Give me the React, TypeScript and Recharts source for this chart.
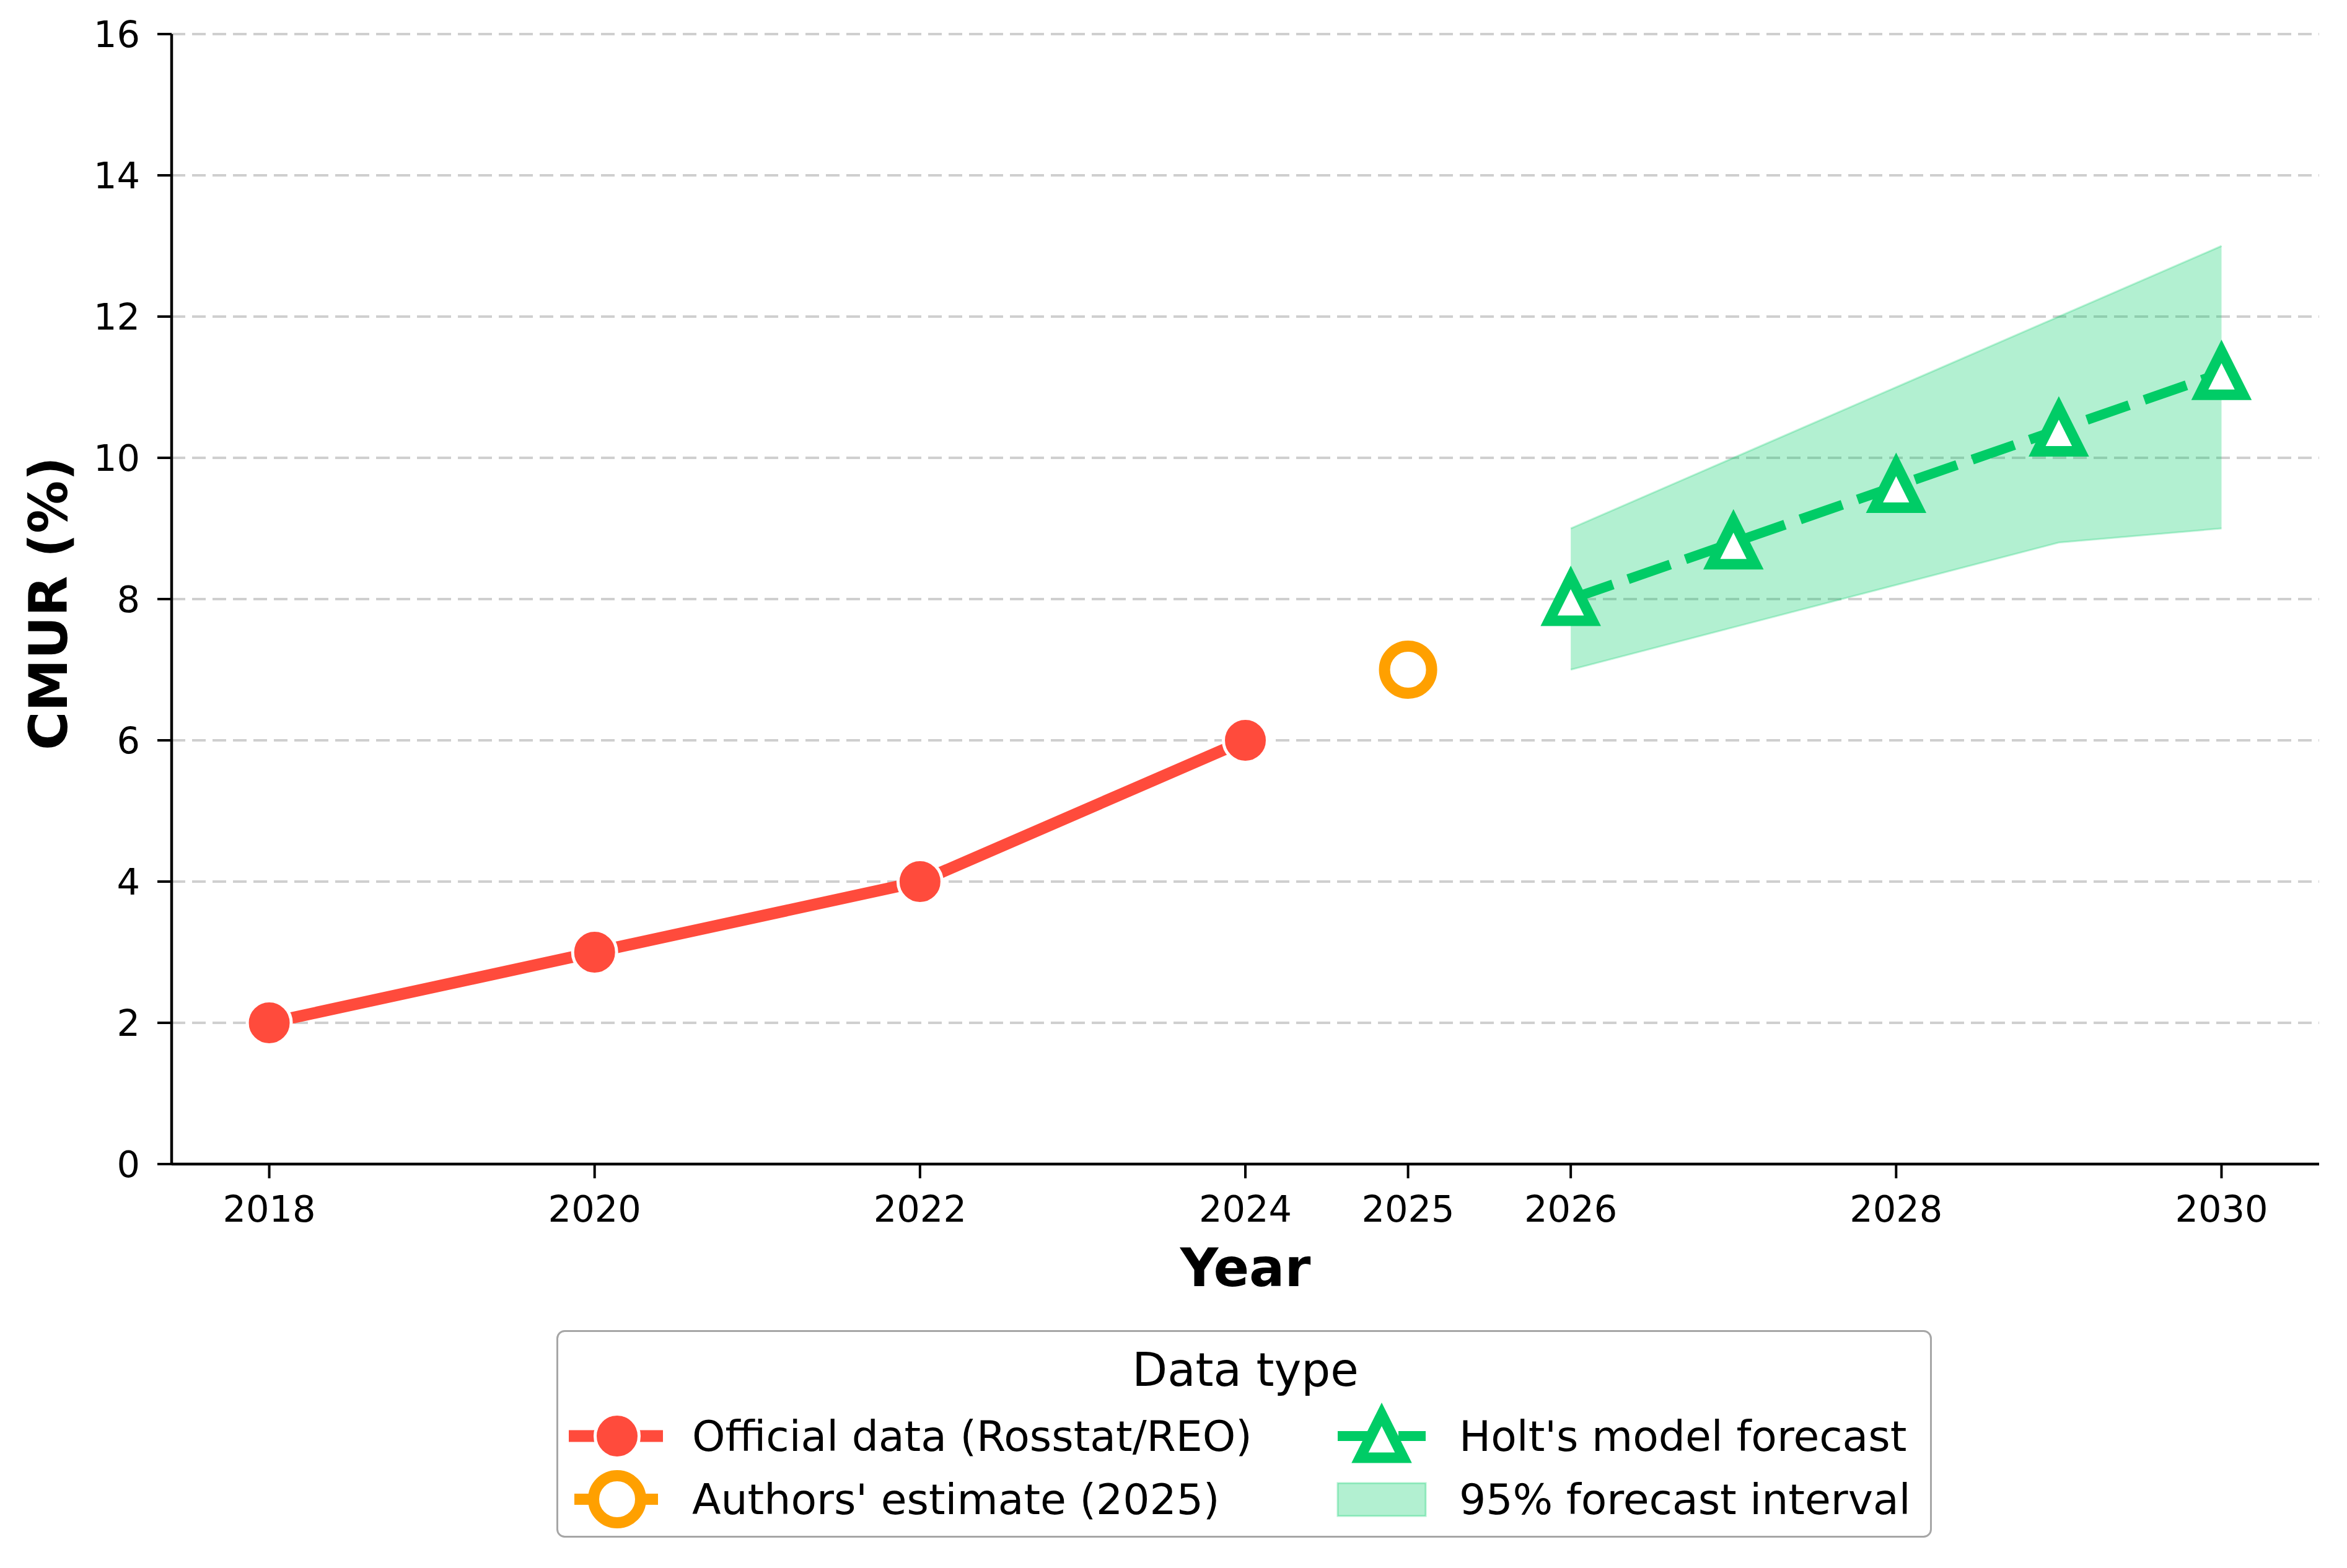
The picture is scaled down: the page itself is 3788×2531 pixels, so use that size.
import { ComposedChart, Line, Area, XAxis, YAxis, CartesianGrid, Legend, Label } from 'recharts';

const years = [2018, 2020, 2022, 2024, 2025, 2026, 2027, 2028, 2029, 2030];

const officialYears = [2018, 2020, 2022, 2024];
const officialValues = [2, 3, 4, 6];

const estimateYears = [2025];
const estimateValues = [7];

const forecastYears = [2026, 2027, 2028, 2029, 2030];
const forecastValues = [8.0, 8.8, 9.6, 10.4, 11.2];
const lowerBound = [7.0, 7.6, 8.2, 8.8, 9.0];
const upperBound = [9.0, 10.0, 11.0, 12.0, 13.0];

const xTicks = [2018, 2020, 2022, 2024, 2025, 2026, 2028, 2030];
const yTicks = [0, 2, 4, 6, 8, 10, 12, 14, 16];

const legendLabels = [
  'Official data (Rosstat/REO)',
  "Authors' estimate (2025)",
  "Holt's model forecast",
  '95% forecast interval',
];

const RED = '#FF4B3C';
const ORANGE = '#FFA000';
const GREEN = '#00CC66';
const FONT = '"DejaVu Sans", sans-serif';

const pick = (ys: number[], vs: number[], year: number) => {
  const i = ys.indexOf(year);
  return i >= 0 ? vs[i] : null;
};

const rows = years.map((year) => {
  const i = forecastYears.indexOf(year);
  return {
    year,
    official: pick(officialYears, officialValues, year),
    estimate: pick(estimateYears, estimateValues, year),
    forecast: pick(forecastYears, forecastValues, year),
    band: i >= 0 ? [lowerBound[i], upperBound[i]] : null,
  };
});

// matplotlib-style '^' marker, centred on the data point
const trianglePath = (cx: number, cy: number, h = 35) =>
  `M${cx},${cy - h}L${cx - h},${cy + h}L${cx + h},${cy + h}Z`;

const renderTriangle = (props: any) => {
  const { cx, cy, index } = props;
  if (cx == null || cy == null) return <g key={`tri-${index}`} />;
  return (
    <path
      key={`tri-${index}`}
      d={trianglePath(cx, cy)}
      fill="#fff"
      stroke={GREEN}
      strokeWidth={17}
      strokeLinejoin="miter"
      strokeDasharray="none"
    />
  );
};

function LegendBox() {
  const w = 2220;
  const h = 335;
  const row1 = 171;
  const row2 = 273;
  const textStyle = { fontFamily: FONT, fontSize: 68, fill: '#000' };
  return (
    <svg width={w} height={h} style={{ display: 'block' }}>
      <rect x={1.5} y={1.5} width={w - 3} height={h - 3} rx={12} fill="#fff" stroke="#a6a6a6" strokeWidth={3} />
      <text x={1112} y={64} textAnchor="middle" dominantBaseline="central" style={{ ...textStyle, fontSize: 74 }}>
        Data type
      </text>

      <line x1={20} y1={row1} x2={172} y2={row1} stroke={RED} strokeWidth={19} />
      <circle cx={98} cy={row1} r={35.5} fill={RED} stroke="#fff" strokeWidth={5} />
      <text x={219} y={row1} dominantBaseline="central" style={textStyle}>{legendLabels[0]}</text>

      <line x1={29} y1={row2} x2={164} y2={row2} stroke={ORANGE} strokeWidth={18} />
      <circle cx={98} cy={row2} r={38} fill="#fff" stroke={ORANGE} strokeWidth={18} />
      <text x={219} y={row2} dominantBaseline="central" style={textStyle}>{legendLabels[1]}</text>

      <line x1={1261} y1={row1} x2={1403} y2={row1} stroke={GREEN} strokeWidth={16} strokeDasharray="72 26" />
      <path d={trianglePath(1332, row1)} fill="#fff" stroke={GREEN} strokeWidth={17} />
      <text x={1457} y={row1} dominantBaseline="central" style={textStyle}>{legendLabels[2]}</text>

      <rect x={1261} y={row2 - 26} width={142} height={53} fill={GREEN} fillOpacity={0.3} stroke={GREEN} strokeOpacity={0.3} strokeWidth={3} />
      <text x={1457} y={row2} dominantBaseline="central" style={textStyle}>{legendLabels[3]}</text>
    </svg>
  );
}

export default function App() {
  return (
    <ComposedChart
      width={3772}
      height={2515}
      data={rows}
      margin={{ top: 47, right: 37, left: 69, bottom: 444 }}
      style={{ fontFamily: FONT, background: '#fff' }}
    >
      <CartesianGrid vertical={false} stroke="#cfcfcf" strokeWidth={4} strokeDasharray="22 11" />
      <XAxis
        dataKey="year"
        type="number"
        domain={[2017.4, 2030.6]}
        ticks={xTicks}
        interval={0}
        allowDataOverflow
        height={200}
        tickSize={23}
        tickMargin={28}
        tick={{ fill: '#000', fontSize: 59, fontFamily: FONT }}
        tickLine={{ stroke: '#000', strokeWidth: 4 }}
        axisLine={{ stroke: '#000', strokeWidth: 4.5 }}
      >
        <Label
          content={(props: any) => {
            const vb = props.viewBox;
            return (
              <text
                x={vb.x + vb.width / 2}
                y={vb.y + 167}
                textAnchor="middle"
                dominantBaseline="central"
                style={{ fontFamily: FONT, fontSize: 85, fontWeight: 'bold', fill: '#000' }}
              >
                Year
              </text>
            );
          }}
        />
      </XAxis>
      <YAxis
        type="number"
        domain={[0, 16]}
        ticks={yTicks}
        interval={0}
        width={200}
        tickSize={23}
        tickMargin={28}
        tick={{ fill: '#000', fontSize: 59, fontFamily: FONT }}
        tickLine={{ stroke: '#000', strokeWidth: 4 }}
        axisLine={{ stroke: '#000', strokeWidth: 4.5 }}
      >
        <Label
          content={(props: any) => {
            const vb = props.viewBox;
            const cx = 70;
            const cy = vb.y + vb.height / 2 + 7;
            return (
              <text
                x={cx}
                y={cy}
                textAnchor="middle"
                dominantBaseline="central"
                transform={`rotate(-90 ${cx} ${cy})`}
                style={{ fontFamily: FONT, fontSize: 85, fontWeight: 'bold', fill: '#000' }}
              >
                CMUR (%)
              </text>
            );
          }}
        />
      </YAxis>

      <Area
        dataKey="band"
        type="linear"
        fill={GREEN}
        fillOpacity={0.3}
        stroke={GREEN}
        strokeOpacity={0.25}
        strokeWidth={3}
        isAnimationActive={false}
        activeDot={false}
        dot={false}
      />
      <Line
        dataKey="official"
        type="linear"
        stroke={RED}
        strokeWidth={19}
        dot={{ r: 35.5, fill: RED, stroke: '#fff', strokeWidth: 5, fillOpacity: 1 }}
        activeDot={false}
        isAnimationActive={false}
      />
      <Line
        dataKey="estimate"
        type="linear"
        stroke="none"
        dot={{ r: 38, fill: '#fff', stroke: ORANGE, strokeWidth: 18, fillOpacity: 1 }}
        activeDot={false}
        isAnimationActive={false}
      />
      <Line
        dataKey="forecast"
        type="linear"
        stroke={GREEN}
        strokeWidth={16}
        strokeDasharray="72 26"
        dot={renderTriangle}
        activeDot={false}
        isAnimationActive={false}
      />

      <Legend
        layout="horizontal"
        verticalAlign="middle"
        align="center"
        wrapperStyle={{ left: 890, top: 2139, width: 2220, height: 335 }}
        content={() => <LegendBox />}
      />
    </ComposedChart>
  );
}
